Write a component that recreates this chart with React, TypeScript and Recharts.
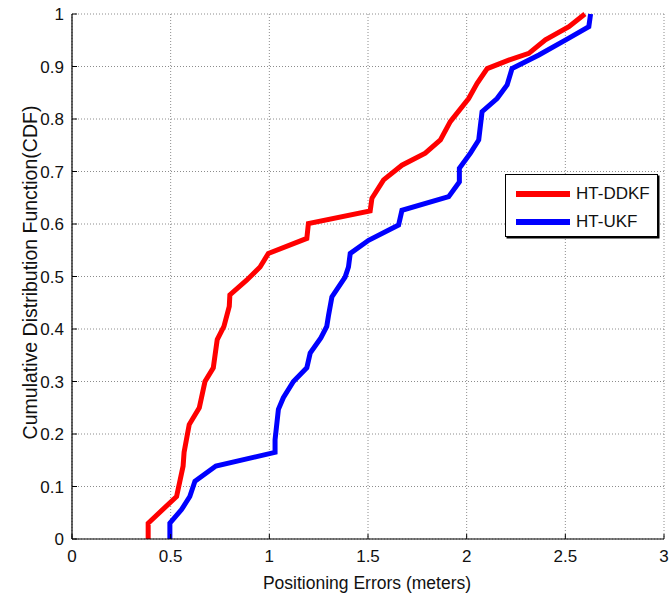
import { CartesianGrid, Line, LineChart, XAxis, YAxis } from 'recharts';

// HT-DDKF
const ddkfErr = [0.386, 0.386, 0.53, 0.563, 0.568, 0.594, 0.645, 0.674, 0.716, 0.736, 0.77, 0.797, 0.8, 0.885, 0.953, 0.995, 1.19, 1.198, 1.511, 1.52, 1.579, 1.672, 1.79, 1.867, 1.917, 2.01, 2.053, 2.104, 2.213, 2.315, 2.399, 2.518, 2.599];
const ddkfCdf = [0, 0.03, 0.081, 0.139, 0.165, 0.218, 0.25, 0.3, 0.326, 0.38, 0.405, 0.443, 0.465, 0.493, 0.518, 0.544, 0.5725, 0.601, 0.625, 0.649, 0.684, 0.712, 0.735, 0.76, 0.795, 0.839, 0.868, 0.896, 0.912, 0.925, 0.951, 0.976, 1];

// HT-UKF
const ukfErr = [0.496, 0.496, 0.555, 0.597, 0.623, 0.729, 1.029, 1.029, 1.046, 1.071, 1.122, 1.19, 1.207, 1.261, 1.291, 1.3, 1.317, 1.384, 1.401, 1.41, 1.503, 1.655, 1.672, 1.909, 1.963, 1.963, 2.019, 2.061, 2.078, 2.154, 2.205, 2.23, 2.366, 2.518, 2.619, 2.628];
const ukfCdf = [0, 0.03, 0.056, 0.081, 0.11, 0.139, 0.165, 0.189, 0.247, 0.269, 0.3, 0.326, 0.354, 0.383, 0.405, 0.426, 0.461, 0.499, 0.518, 0.544, 0.569, 0.598, 0.626, 0.652, 0.68, 0.706, 0.735, 0.76, 0.814, 0.839, 0.865, 0.896, 0.922, 0.954, 0.976, 1];

const xTicks = [0, 0.5, 1, 1.5, 2, 2.5, 3];
const yTicks = [0, 0.1, 0.2, 0.3, 0.4, 0.5, 0.6, 0.7, 0.8, 0.9, 1];

const series = [
  { name: 'HT-DDKF', color: '#ff0000', data: ddkfErr.map((x, i) => ({ x, y: ddkfCdf[i] })) },
  { name: 'HT-UKF', color: '#0000ff', data: ukfErr.map((x, i) => ({ x, y: ukfCdf[i] })) },
];

const FONT = '"Liberation Sans", Arial, sans-serif';

function BottomTick({ x, y, payload }: any) {
  return (
    <g>
      <line x1={x} y1={y} x2={x} y2={y - 5} stroke="#000" />
      <text x={x} y={y + 23} textAnchor="middle" fontSize={17} fill="#111" fontFamily={FONT}>
        {payload.value}
      </text>
    </g>
  );
}

function LeftTick({ x, y, payload }: any) {
  return (
    <g>
      <line x1={x} y1={y} x2={x + 5} y2={y} stroke="#000" />
      <text x={x - 8} y={y} dy="0.36em" textAnchor="end" fontSize={17} fill="#111" fontFamily={FONT}>
        {payload.value}
      </text>
    </g>
  );
}

function TopTick({ x, y }: any) {
  return <line x1={x} y1={y} x2={x} y2={y + 5} stroke="#000" />;
}

function RightTick({ x, y }: any) {
  return <line x1={x} y1={y} x2={x - 5} y2={y} stroke="#000" />;
}

export default function App() {
  return (
    <div style={{ position: 'absolute', left: 0, top: 0, width: 670, height: 596, background: '#fff' }}>
      <LineChart width={670} height={596} margin={{ top: 14, right: 6, bottom: 27, left: 0 }}>
        <CartesianGrid stroke="#8c8c8c" strokeDasharray="1 2" />
        <XAxis
          dataKey="x"
          type="number"
          domain={[0, 3]}
          ticks={xTicks}
          height={30}
          tickSize={0}
          tickMargin={0}
          tick={<BottomTick />}
          axisLine={{ stroke: '#000', strokeWidth: 1.2 }}
          label={{
            content: ({ viewBox }: any) => (
              <text x={viewBox.x + viewBox.width / 2 - 1} y={viewBox.y + 50} textAnchor="middle" fontSize={17.5} fill="#111" fontFamily={FONT}>
                Positioning Errors (meters)
              </text>
            ),
          }}
        />
        <XAxis xAxisId="top" orientation="top" type="number" domain={[0, 3]} ticks={xTicks} height={0} tickSize={0} tick={<TopTick />} axisLine={false} />
        <YAxis
          type="number"
          domain={[0, 1]}
          ticks={yTicks}
          width={72}
          tickSize={0}
          tickMargin={0}
          tick={<LeftTick />}
          axisLine={{ stroke: '#000', strokeWidth: 1.2 }}
          label={{
            content: ({ viewBox }: any) => {
              const cx = viewBox.x + 37;
              const cy = viewBox.y + viewBox.height / 2 - 4;
              return (
                <text x={cx} y={cy} transform={`rotate(-90, ${cx}, ${cy})`} textAnchor="middle" fontSize={19.5} fill="#111" fontFamily={FONT}>
                  Cumulative Distribution Function(CDF)
                </text>
              );
            },
          }}
        />
        <YAxis yAxisId="right" orientation="right" type="number" domain={[0, 1]} ticks={yTicks} width={0} tickSize={0} tick={<RightTick />} axisLine={false} />
        {series.map((s) => (
          <Line
            key={s.name}
            data={s.data}
            dataKey="y"
            name={s.name}
            type="linear"
            stroke={s.color}
            strokeWidth={5}
            dot={false}
            isAnimationActive={false}
          />
        ))}
      </LineChart>
      <div
        style={{
          position: 'absolute',
          left: 505,
          top: 174,
          width: 153,
          height: 63,
          border: '1px solid #000',
          boxShadow: '1.5px 1.5px 0 #000',
          background: '#fff',
          fontFamily: FONT,
          fontSize: 17,
          color: '#111',
          boxSizing: 'border-box',
          paddingTop: 5,
        }}
      >
        {series.map((s) => (
          <div key={s.name} style={{ display: 'flex', alignItems: 'center', height: 28 }}>
            <span style={{ display: 'inline-block', marginLeft: 10, width: 54, height: 6, background: s.color }} />
            <span style={{ marginLeft: 6 }}>{s.name}</span>
          </div>
        ))}
      </div>
    </div>
  );
}
